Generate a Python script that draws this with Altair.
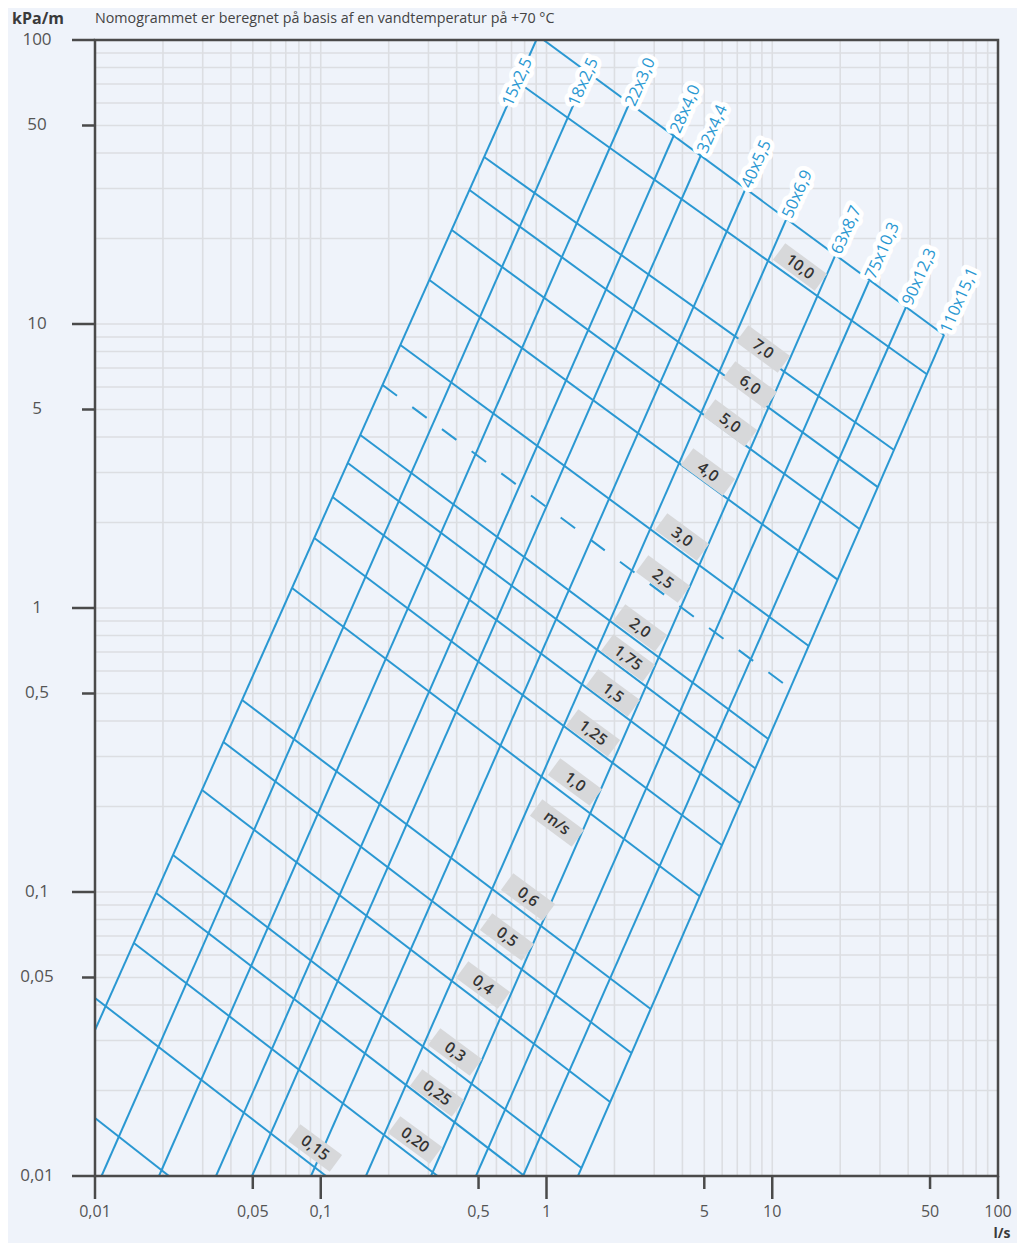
import altair as alt
import pandas as pd

# ---------------- data ----------------
# log grid (l/s and kPa/m)
grid_vals = [0.01, 0.02, 0.03, 0.04, 0.05, 0.06, 0.07, 0.08, 0.09,
             0.1, 0.2, 0.3, 0.4, 0.5, 0.6, 0.7, 0.8, 0.9,
             1, 2, 3, 4, 5, 6, 7, 8, 9,
             10, 20, 30, 40, 50, 60, 70, 80, 90, 100]

tick_major = [0.01, 0.1, 1, 10, 100]
tick_minor = [0.05, 0.5, 5, 50]
tick_vals = [0.01, 0.05, 0.1, 0.5, 1, 5, 10, 50, 100]
x_tick_text = ["0,01", "0,05", "0,1", "0,5", "1", "5", "10", "50", "100"]
y_tick_text = ["0,01", "0,05", "0,1", "0,5", "1", "5", "10", "50", "100"]

# pipe lines (flow l/s, pressure loss kPa/m) lower and upper end
pipe_names = ["15x2,5", "18x2,5", "22x3,0", "28x4,0", "32x4,4", "40x5,5",
              "50x6,9", "63x8,7", "75x10,3", "90x12,3", "110x15,1"]
pipe_q_low = [0.01, 0.01069, 0.01921, 0.03436, 0.04961, 0.09054,
              0.1586, 0.3079, 0.4872, 0.787, 1.379]
pipe_r_low = [0.03266, 0.01, 0.01, 0.01, 0.01, 0.01,
              0.01, 0.01, 0.01, 0.01, 0.01]
pipe_q_high = [0.901, 1.521, 2.320, 3.671, 4.835, 7.574,
               11.50, 18.97, 26.83, 39.13, 57.66]
pipe_r_high = [100, 76.77, 59.51, 46.30, 39.37, 29.64,
               23.24, 17.36, 14.17, 11.48, 9.15]
pipe_label_q = [0.6616, 1.297, 2.320, 3.671, 4.835, 7.574,
                11.50, 18.97, 26.83, 39.13, 57.66]
pipe_label_r = [57.63, 57.63, 57.63, 46.30, 39.37, 29.64,
                23.24, 17.36, 14.17, 11.48, 9.15]

# velocity lines (m/s): start and end points
vel_ids = ["top", "10", "7", "6", "5", "4", "3", "2.5", "2", "1.75", "1.5",
           "1.25", "1", "0.6", "0.5", "0.4", "0.3", "0.25", "0.2", "0.15", "0.1"]
vel_q_start = [0.9710, 0.7447, 0.5297, 0.4559, 0.3804, 0.3029, 0.2253, 0.1879,
               0.1497, 0.1317, 0.1128, 0.09363, 0.07459, 0.04483, 0.03706,
               0.02979, 0.02215, 0.01865, 0.01486, 0.01, 0.01]
vel_r_start = [100, 71.14, 38.73, 29.64, 21.43, 14.28, 8.437, 6.099,
               4.067, 3.240, 2.459, 1.764, 1.176, 0.4744, 0.3375,
               0.2287, 0.1350, 0.09920, 0.06613, 0.04234, 0.01601]
vel_q_end = [57.66, 48.43, 34.62, 29.35, 24.37, 19.48, 14.51, 12.01,
             9.605, 8.423, 7.211, 5.989, 4.771, 2.894, 2.379,
             1.913, 1.429, 0.7989, 0.3293, 0.1055, 0.02127]
vel_r_end = [9.15, 6.652, 3.599, 2.665, 1.898, 1.259, 0.7348, 0.5209,
             0.3457, 0.2722, 0.2055, 0.146, 0.09658, 0.03873, 0.02710,
             0.01822, 0.01067, 0.01, 0.01, 0.01, 0.01]
vel_dashed = ["2.5"]

# velocity labels
vel_label_text = ["10,0", "7,0", "6,0", "5,0", "4,0", "3,0", "2,5", "2,0", "1,75",
                  "1,5", "1,25", "1,0", "m/s", "0,6", "0,5", "0,4", "0,3",
                  "0,25", "0,20", "0,15"]
vel_label_q = [13.27, 9.099, 7.969, 6.499, 5.193, 3.983, 3.282, 2.596, 2.296,
               1.970, 1.607, 1.337, 1.113, 0.8279, 0.6683, 0.5233, 0.3933,
               0.3273, 0.2616, 0.09430]
vel_label_r = [15.88, 8.166, 6.099, 4.481, 3.012, 1.778, 1.265, 0.8502, 0.6668,
               0.5021, 0.3630, 0.2439, 0.1750, 0.09603, 0.06942, 0.04704, 0.02732,
               0.01960, 0.01339, 0.01255]

title_text = "Nomogrammet er beregnet på basis af en vandtemperatur på +70 °C"
y_title = "kPa/m"
x_title = "l/s"

# ---------------- styling ----------------
W, H = 903, 1136
BG = "#EFF3FA"
BLUE = "#2A98D2"
GRID = "#DCDEE2"
AXIS = "#4A4A4A"
FONT = "Open Sans"

xs = alt.Scale(type="log", domain=[0.01, 100], nice=False)
ys = alt.Scale(type="log", domain=[0.01, 100], nice=False)

df_grid = pd.DataFrame({"v": grid_vals})
df_pipes = pd.DataFrame({"name": pipe_names, "q1": pipe_q_low, "r1": pipe_r_low,
                         "q2": pipe_q_high, "r2": pipe_r_high,
                         "lq": pipe_label_q, "lr": pipe_label_r})
df_vel = pd.DataFrame({"id": vel_ids, "q1": vel_q_start, "r1": vel_r_start,
                       "q2": vel_q_end, "r2": vel_r_end})
df_vel_solid = df_vel[~df_vel["id"].isin(vel_dashed)]
df_vel_dash = df_vel[df_vel["id"].isin(vel_dashed)]
df_vlab = pd.DataFrame({"t": vel_label_text, "q": vel_label_q, "r": vel_label_r})
df_ticks = pd.DataFrame({"v": tick_vals, "xt": x_tick_text, "yt": y_tick_text})
df_major = pd.DataFrame({"v": tick_major})
df_minor = pd.DataFrame({"v": tick_minor})
df_one = pd.DataFrame({"a": [0]})

X = lambda f: alt.X(f, type="quantitative", scale=xs, axis=None)
Y = lambda f: alt.Y(f, type="quantitative", scale=ys, axis=None)

grid_x = alt.Chart(df_grid).mark_rule(color=GRID, strokeWidth=1.6).encode(x=X("v"))
grid_y = alt.Chart(df_grid).mark_rule(color=GRID, strokeWidth=1.6).encode(y=Y("v"))

pipes = alt.Chart(df_pipes).mark_rule(color=BLUE, strokeWidth=2, clip=True).encode(
    x=X("q1"), y=Y("r1"), x2="q2", y2="r2")
vel = alt.Chart(df_vel_solid).mark_rule(color=BLUE, strokeWidth=2, clip=True).encode(
    x=X("q1"), y=Y("r1"), x2="q2", y2="r2")
vel_d = alt.Chart(df_vel_dash).mark_rule(color=BLUE, strokeWidth=2, clip=True,
                                         strokeDash=[18, 19]).encode(
    x=X("q1"), y=Y("r1"), x2="q2", y2="r2")

box_shape = "M-1,-0.4L1,-0.4L1,0.4L-1,0.4Z"
vboxes = alt.Chart(df_vlab).mark_point(shape=box_shape, size=2704, filled=True,
                                       fill="#D7D8DA", opacity=1, strokeWidth=0,
                                       angle=36.5).encode(x=X("q"), y=Y("r"))
vtext = alt.Chart(df_vlab).mark_text(angle=36.5, font=FONT, fontSize=15.5,
                                     fontWeight=600, color="#333333",
                                     align="center", baseline="middle").encode(
    x=X("q"), y=Y("r"), text="t:N")

plab_halo = alt.Chart(df_pipes).mark_text(angle=294, align="left", baseline="middle",
                                          dx=3, font=FONT, fontSize=16.5, fill="white",
                                          stroke="white", strokeWidth=9,
                                          strokeJoin="round").encode(
    x=X("lq"), y=Y("lr"), text="name:N")
plab = alt.Chart(df_pipes).mark_text(angle=294, align="left", baseline="middle",
                                     dx=3, font=FONT, fontSize=16.5, color=BLUE).encode(
    x=X("lq"), y=Y("lr"), text="name:N")

frame = alt.Chart(df_one).mark_rect(fill="transparent", stroke=AXIS, strokeWidth=2.5).encode(
    x=alt.value(0), x2=alt.value(W), y=alt.value(0), y2=alt.value(H))

ytick_maj = alt.Chart(df_major).mark_rule(color=AXIS, strokeWidth=2.5).encode(
    y=Y("v"), x=alt.value(-23), x2=alt.value(0))
ytick_min = alt.Chart(df_minor).mark_rule(color=AXIS, strokeWidth=2.5).encode(
    y=Y("v"), x=alt.value(-13), x2=alt.value(0))
xtick_maj = alt.Chart(df_major).mark_rule(color=AXIS, strokeWidth=2.5).encode(
    x=X("v"), y=alt.value(H), y2=alt.value(H + 23))
xtick_min = alt.Chart(df_minor).mark_rule(color=AXIS, strokeWidth=2.5).encode(
    x=X("v"), y=alt.value(H), y2=alt.value(H + 13))

ylab = alt.Chart(df_ticks).mark_text(font=FONT, fontSize=17, color="#555555",
                                     align="center", baseline="middle").encode(
    y=Y("v"), x=alt.value(-58), text="yt:N")
xlab = alt.Chart(df_ticks).mark_text(font=FONT, fontSize=16, color="#555555",
                                     align="center", baseline="middle").encode(
    x=X("v"), y=alt.value(H + 36), text="xt:N")

t_title = alt.Chart(df_one).mark_text(font=FONT, fontSize=14.3, color="#444444",
                                      align="left", baseline="middle").encode(
    x=alt.value(0), y=alt.value(-21), text=alt.value(title_text))
t_y = alt.Chart(df_one).mark_text(font=FONT, fontSize=16, fontWeight="bold", color="#3a3a3a",
                                  align="center", baseline="middle").encode(
    x=alt.value(-57), y=alt.value(-21), text=alt.value(y_title))
t_x = alt.Chart(df_one).mark_text(font=FONT, fontSize=14, fontWeight="bold", color="#3a3a3a",
                                  align="center", baseline="middle").encode(
    x=alt.value(W + 4), y=alt.value(H + 57.5), text=alt.value(x_title))

chart = alt.layer(
    grid_x, grid_y, pipes, vel, vel_d, vboxes, vtext, plab_halo, plab,
    frame, ytick_maj, ytick_min, xtick_maj, xtick_min, ylab, xlab, t_title, t_y, t_x
).properties(
    width=W, height=H,
    autosize=alt.AutoSizeParams(type="none"),
    padding={"left": 87, "top": 32, "right": 19, "bottom": 67},
    background=BG,
).configure_view(strokeWidth=0)

chart.save("out.html", embed_options={"renderer": "svg", "actions": False})
